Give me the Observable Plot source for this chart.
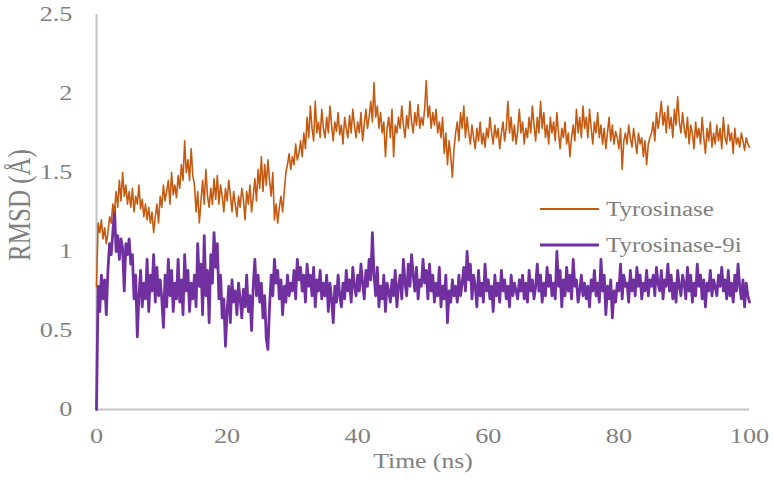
<!DOCTYPE html>
<html>
<head>
<meta charset="utf-8">
<script src="https://cdn.jsdelivr.net/npm/d3@7"></script>
<script src="https://cdn.jsdelivr.net/npm/@observablehq/plot@0.6"></script>
<style>
  html, body { margin: 0; padding: 0; background: #fff; }
  #chart { width: 774px; height: 480px; }
</style>
</head>
<body>
<div id="chart"></div>
<script>
// RMSD of the free enzyme and the 9i complex over a 100 ns trajectory,
// sampled every 0.25 ns.
const timeStep = 0.25;

const seriesNames = ["Tyrosinase", "Tyrosinase-9i"];
const seriesColors = ["#c55a11", "#7030a0"];

const xTicks = [0, 20, 40, 60, 80, 100];
const yTicks = [0, 0.5, 1, 1.5, 2, 2.5];

const tyrosinase = [
  0.78, 1.18, 1.12, 1.2, 1.08, 1.15, 1.05, 1.12, 1.22, 1.18, 1.3, 1.25, 1.38, 1.28, 1.45, 1.32, 1.5, 1.35, 1.42, 1.3,
  1.38, 1.28, 1.4, 1.25, 1.35, 1.3, 1.42, 1.27, 1.33, 1.22, 1.3, 1.2, 1.28, 1.18, 1.25, 1.12, 1.22, 1.3, 1.18, 1.35,
  1.28, 1.42, 1.32, 1.38, 1.45, 1.3, 1.5, 1.36, 1.42, 1.34, 1.48, 1.4, 1.55, 1.45, 1.7, 1.5, 1.58, 1.45, 1.65, 1.48,
  1.42, 1.25, 1.38, 1.18, 1.32, 1.45, 1.3, 1.52, 1.35, 1.28, 1.4, 1.3, 1.46, 1.33, 1.48, 1.3, 1.42, 1.35, 1.25, 1.4,
  1.32, 1.45, 1.36, 1.25, 1.38, 1.3, 1.22, 1.35, 1.28, 1.4, 1.33, 1.2, 1.38, 1.3, 1.42, 1.25, 1.35, 1.46, 1.32, 1.52,
  1.4, 1.6, 1.38, 1.55, 1.42, 1.58, 1.45, 1.35, 1.5, 1.2, 1.3, 1.18, 1.28, 1.35, 1.25, 1.38, 1.5, 1.55, 1.62, 1.52,
  1.6, 1.55, 1.68, 1.58, 1.62, 1.7, 1.6, 1.75, 1.65, 1.85, 1.72, 1.92, 1.78, 1.7, 1.95, 1.75, 1.82, 1.72, 1.9, 1.78,
  1.72, 1.85, 1.75, 1.92, 1.8, 1.7, 1.82, 1.76, 1.88, 1.74, 1.8, 1.68, 1.85, 1.78, 1.72, 1.86, 1.75, 1.9, 1.8, 1.72,
  1.82, 1.75, 1.88, 1.7, 1.8, 1.9, 1.78, 1.85, 1.95, 1.82, 2.07, 1.85, 1.92, 1.78, 1.88, 1.75, 1.82, 1.6, 1.78, 1.85,
  1.72, 1.9, 1.6, 1.8, 1.75, 1.85, 1.78, 1.92, 1.8, 1.72, 1.86, 1.78, 1.95, 1.82, 1.75, 1.88, 1.8, 1.93, 1.78, 1.85,
  1.8, 1.9, 2.08, 1.85, 1.92, 1.78, 1.88, 1.8, 1.9, 1.75, 1.82, 1.72, 1.85, 1.62, 1.75, 1.55, 1.7, 1.6, 1.47, 1.65,
  1.75, 1.82, 1.7, 1.88, 1.78, 1.92, 1.72, 1.85, 1.75, 1.68, 1.8, 1.72, 1.65, 1.78, 1.7, 1.82, 1.68, 1.75, 1.66, 1.78,
  1.72, 1.85, 1.75, 1.68, 1.8, 1.72, 1.78, 1.65, 1.75, 1.82, 1.7, 1.78, 1.95, 1.75, 1.85, 1.7, 1.8, 1.68, 1.76, 1.9,
  1.75, 1.82, 1.68, 1.78, 1.72, 1.85, 1.75, 1.92, 1.8, 1.7, 1.85, 1.75, 1.95, 1.78, 1.88, 1.72, 1.8, 1.68, 1.85, 1.75,
  1.82, 1.7, 1.88, 1.75, 1.65, 1.78, 1.72, 1.82, 1.68, 1.75, 1.6, 1.72, 1.8, 1.7, 1.9, 1.75, 1.85, 1.72, 1.92, 1.78,
  1.85, 1.72, 1.9, 1.78, 1.68, 1.82, 1.75, 1.88, 1.72, 1.8, 1.68, 1.78, 1.65, 1.75, 1.85, 1.7, 1.8, 1.68, 1.76, 1.72,
  1.65, 1.78, 1.52, 1.7, 1.75, 1.68, 1.8, 1.72, 1.66, 1.78, 1.7, 1.62, 1.75, 1.68, 1.72, 1.6, 1.7, 1.55, 1.68, 1.72,
  1.75, 1.82, 1.7, 1.88, 1.78, 1.85, 1.95, 1.8, 1.88, 1.75, 1.92, 1.78, 1.85, 1.72, 1.9, 1.8, 1.98, 1.82, 1.75, 1.88,
  1.78, 1.72, 1.85, 1.68, 1.8, 1.75, 1.65, 1.82, 1.72, 1.78, 1.68, 1.85, 1.72, 1.62, 1.78, 1.7, 1.82, 1.66, 1.75, 1.68,
  1.8, 1.7, 1.78, 1.65, 1.85, 1.72, 1.68, 1.8, 1.7, 1.75, 1.62, 1.78, 1.68, 1.72, 1.66, 1.75, 1.7, 1.64, 1.72, 1.68,
  1.66
];

const tyrosinase9i = [
  0, 0.78, 0.62, 0.85, 0.7, 0.82, 0.6, 0.88, 1.05, 0.98, 1.12, 1.28, 1.0, 1.1, 0.95, 1.08, 1.02, 0.75, 1.05, 0.98,
  1.08, 0.92, 0.98, 0.7, 0.85, 0.46, 0.72, 0.88, 0.65, 0.8, 0.7, 0.95, 0.62, 0.85, 0.75, 0.98, 0.68, 0.9, 0.72, 0.82,
  0.7, 0.52, 0.85, 0.65, 0.95, 0.72, 0.88, 0.62, 0.8, 0.7, 0.95, 0.68, 0.82, 0.6, 0.98, 0.75, 0.88, 0.62, 0.8, 0.7,
  0.85, 0.65, 1.05, 0.78, 0.92, 0.6, 1.1, 0.72, 0.88, 0.55, 0.98, 0.8, 1.12, 0.9, 1.05, 0.7, 0.85, 0.58, 0.7, 0.4,
  0.62, 0.78, 0.55, 0.82, 0.68, 0.75, 0.6, 0.8, 0.7, 0.58, 0.76, 0.65, 0.85, 0.62, 0.72, 0.5, 0.78, 0.95, 0.72, 0.85,
  0.68, 0.8, 0.58, 0.72, 0.45, 0.38, 0.65, 0.85, 0.72, 0.95, 0.8, 0.88, 0.7, 0.82, 0.6, 0.78, 0.68, 0.85, 0.72, 0.8,
  0.75, 0.88, 0.7, 0.95, 0.82, 0.9, 0.75, 0.85, 0.68, 0.92, 0.78, 0.85, 0.72, 0.9, 0.65, 0.82, 0.75, 0.88, 0.7, 0.8,
  0.72, 0.85, 0.62, 0.8, 0.7, 0.55, 0.78, 0.68, 0.85, 0.72, 0.65, 0.8, 0.7, 0.88, 0.75, 0.82, 0.68, 0.9, 0.78, 0.72,
  0.85, 0.75, 0.92, 0.8, 0.7, 0.88, 0.78, 0.95, 0.82, 1.12, 0.85, 0.72, 0.9, 0.65, 0.78, 0.7, 0.85, 0.62, 0.8, 0.75,
  0.68, 0.82, 0.72, 0.88, 0.65, 0.78, 0.85, 0.7, 0.95, 0.8, 0.72, 0.92, 0.78, 0.98, 0.85, 0.75, 0.9, 0.7, 0.82, 0.78,
  0.95, 0.8, 0.88, 0.7, 0.92, 0.75, 0.85, 0.68, 0.8, 0.72, 0.9, 0.65, 0.78, 0.7, 0.85, 0.55, 0.75, 0.68, 0.82, 0.72,
  0.78, 0.68, 0.85, 0.72, 0.8, 0.9, 0.75, 1.0, 0.82, 0.92, 0.7, 0.85, 0.78, 0.65, 0.88, 0.72, 0.8, 0.68, 0.92, 0.75,
  0.82, 0.7, 0.78, 0.62, 0.85, 0.72, 0.8, 0.68, 0.88, 0.75, 0.82, 0.7, 0.78, 0.65, 0.85, 0.72, 0.8, 0.75, 0.7, 0.82,
  0.75, 0.85, 0.7, 0.8, 0.68, 0.88, 0.75, 0.82, 0.7, 0.78, 0.92, 0.75, 0.85, 0.68, 0.8, 0.72, 0.9, 0.78, 0.85, 0.72,
  0.8, 0.7, 1.0, 0.78, 0.88, 0.65, 0.82, 0.72, 0.9, 0.75, 0.85, 0.7, 0.95, 0.78, 0.82, 0.68, 0.75, 0.85, 0.72, 0.8,
  0.7, 0.78, 0.65, 0.82, 0.75, 0.88, 0.72, 0.8, 0.68, 0.95, 0.75, 0.85, 0.6, 0.78, 0.7, 0.82, 0.58, 0.75, 0.68, 0.8,
  0.75, 0.92, 0.7, 0.85, 0.78, 0.8, 0.68, 0.88, 0.75, 0.82, 0.72, 0.9, 0.78, 0.85, 0.7, 0.8, 0.75, 0.88, 0.72, 0.82,
  0.78, 0.85, 0.72, 0.9, 0.8, 0.75, 0.88, 0.7, 0.82, 0.78, 0.92, 0.75, 0.85, 0.7, 0.8, 0.68, 0.88, 0.78, 0.72, 0.85,
  0.8, 0.7, 0.9, 0.75, 0.85, 0.68, 0.8, 0.72, 0.92, 0.78, 0.85, 0.7, 0.82, 0.65, 0.8, 0.75, 0.88, 0.72, 0.82, 0.78,
  0.72, 0.85, 0.78, 0.9, 0.75, 0.82, 0.7, 0.88, 0.72, 0.8, 0.68, 0.85, 0.75, 0.92, 0.78, 0.7, 0.82, 0.65, 0.8, 0.72,
  0.68
];

const toRows = (values, series) =>
  values.map((v, i) => ({ time: i * timeStep, rmsd: v, series }));
const rowsFree = toRows(tyrosinase, seriesNames[0]);
const rowsComplex = toRows(tyrosinase9i, seriesNames[1]);

const textColor = "#808080";
const axisColor = "#c4c4c4";
const fontFamily = "'Liberation Serif', 'Times New Roman', serif";
const stretch = 1.25; // glyphs are drawn wider than tall

const chart = Plot.plot({
  width: 774,
  height: 480,
  marginLeft: 96,
  marginRight: 25,
  marginTop: 14,
  marginBottom: 71,
  style: { fontFamily, color: textColor, background: "#fff", overflow: "visible" },
  x: { domain: [0, 100] },
  y: { domain: [0, 2.5] },
  marks: [
    Plot.axisY({ ticks: yTicks, tickSize: 0, tickPadding: 24, fontSize: 21, label: null, tickFormat: d => String(d) }),
    Plot.axisX({ ticks: xTicks, tickSize: 0, tickPadding: 19, fontSize: 21, label: null }),
    Plot.ruleX([0], { stroke: axisColor, strokeWidth: 2 }),
    Plot.ruleY([0], { stroke: axisColor, strokeWidth: 2 }),
    Plot.line(rowsComplex, { x: "time", y: "rmsd", stroke: seriesColors[1], strokeWidth: 2.8, strokeLinejoin: "round" }),
    Plot.line(rowsFree, { x: "time", y: "rmsd", stroke: seriesColors[0], strokeWidth: 1.6, strokeLinejoin: "round" }),
    Plot.text(["RMSD (Å)"], { frameAnchor: "left", textAnchor: "middle", rotate: -90, dx: -77, dy: -7, fontSize: 25, fill: textColor, ariaLabel: "y-title" }),
    Plot.text(["Time (ns)"], { frameAnchor: "bottom", dy: 58, fontSize: 20.5, fill: textColor })
  ]
});

// Legend, placed inside the plot area on the right
const svg = d3.select(chart);
const legend = svg.append("g").attr("class", "legend").attr("text-anchor", "start");
const legendX = 540, legendY = 209, legendGap = 36;
seriesNames.forEach((name, i) => {
  const y = legendY + i * legendGap;
  legend.append("line")
    .attr("x1", legendX).attr("x2", legendX + 59)
    .attr("y1", y).attr("y2", y)
    .attr("stroke", seriesColors[i])
    .attr("stroke-width", i === 0 ? 2 : 3);
  legend.append("text")
    .attr("transform", `translate(${legendX + 66},${y})`)
    .attr("dy", "0.34em")
    .attr("text-anchor", "start")
    .attr("font-size", 20)
    .attr("font-family", fontFamily)
    .attr("fill", textColor)
    .text(name);
});

// Widen horizontal text glyphs
svg.selectAll("text").each(function () {
  if (this.closest("[aria-label='y-title']")) return;
  const tr = this.getAttribute("transform");
  if (tr && /^translate\(/.test(tr)) {
    this.setAttribute("transform", tr.replace(/^(translate\([^)]*\))/, `$1 scale(${stretch},1)`));
  } else {
    const x = +this.getAttribute("x") || 0, y = +this.getAttribute("y") || 0;
    this.removeAttribute("x"); this.removeAttribute("y");
    this.setAttribute("transform", `translate(${x},${y}) scale(${stretch},1)${tr ? " " + tr : ""}`);
  }
});

document.getElementById("chart").appendChild(chart);
</script>
</body>
</html>
